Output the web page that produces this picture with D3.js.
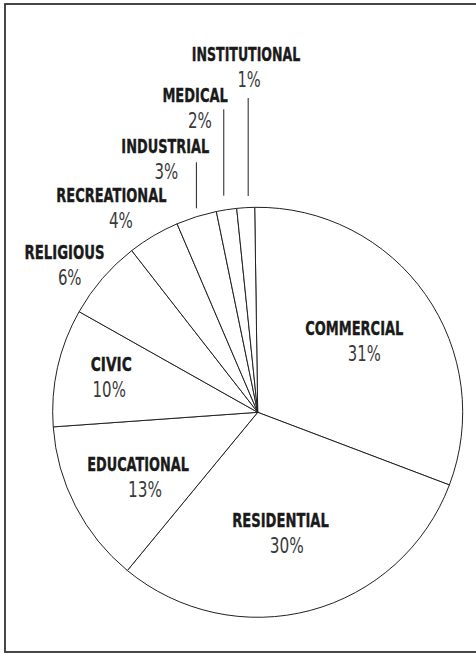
<!DOCTYPE html>
<html>
<head>
<meta charset="utf-8">
<script src="https://cdn.jsdelivr.net/npm/d3@7"></script>
<style>
  html, body { margin: 0; padding: 0; background: #fff; }
  svg { display: block; }
</style>
</head>
<body>
<svg id="chart" width="476" height="653"></svg>
<script>
// ---- data ----
const categories = ["COMMERCIAL", "RESIDENTIAL", "EDUCATIONAL", "CIVIC", "RELIGIOUS",
                    "RECREATIONAL", "INDUSTRIAL", "MEDICAL", "INSTITUTIONAL"];
const shares = [31.0, 30.2, 12.9, 9.3, 6.3, 4.1, 3.2, 1.6, 1.4];
const pctLabels = ["31%", "30%", "13%", "10%", "6%", "4%", "3%", "2%", "1%"];

// ---- layout (label placement relative to slice mid-angle, in degrees / radius factor) ----
const labelAngleNudge = [-3.6, 3.6, 1.35, 3.0, -2.37, -4.27, -2.22, -2.62, 1.46];
const labelRadiusK    = [0.603, 0.569, 0.649, 0.742, 1.202, 1.25, 1.342, 1.546, 1.715];
const nameWidths      = [98.3, 96.7, 101.7, 41, 80, 110.3, 88, 65.6, 108.5];
const pctWidths       = [33, 34, 34, 33.3, 23.7, 24, 23.7, 24, 23.3];
const pctDx           = [10, 6.3, 7, -2, 5.2, 9.5, 1, 4.8, 3];
// leader lines: [x nudge, top y, bottom y] relative to pie centre (null = none)
const leaders = [null, null, null, null, null, null, [0, -250, -204], [-2.7, -303, -216.6], [2.5, -314.3, -216.3]];

const W = 476, H = 653;
const cx = 257.7, cy = 412.3, R = 205;
const startDeg = -0.84;

const svg = d3.select("#chart");

// frame
svg.append("rect")
  .attr("x", 5).attr("y", 4)
  .attr("width", 480).attr("height", 648)
  .attr("fill", "none")
  .attr("stroke", "#333")
  .attr("stroke-width", 1.8);

const data = categories.map((c, i) => ({ name: c, value: shares[i], pct: pctLabels[i], i }));

const start = startDeg * Math.PI / 180;
const pie = d3.pie().sort(null).value(d => d.value)
  .startAngle(start).endAngle(start + 2 * Math.PI);
const arcs = pie(data);

const arc = d3.arc().innerRadius(0).outerRadius(R);

const g = svg.append("g").attr("transform", `translate(${cx},${cy})`);

g.selectAll("path.slice")
  .data(arcs)
  .join("path")
  .attr("class", "slice")
  .attr("d", arc)
  .attr("fill", "#fff")
  .attr("stroke", "#222")
  .attr("stroke-width", 1)
  .attr("stroke-linejoin", "round");

// leader lines
arcs.forEach(a => {
  const L = leaders[a.data.i];
  if (!L) return;
  const mid = (a.startAngle + a.endAngle) / 2;
  const x = R * Math.sin(mid) + L[0];
  g.append("line")
    .attr("x1", x).attr("x2", x)
    .attr("y1", L[1]).attr("y2", L[2])
    .attr("stroke", "#222")
    .attr("stroke-width", 1);
});

// labels: draw naturally, then compress horizontally to the measured width
const fontStack = "'Liberation Sans Narrow', 'DejaVu Sans Condensed', 'Roboto', sans-serif";
function fitText(x, y, str, width, opts) {
  const t = g.append("text")
    .attr("x", 0).attr("y", 0)
    .attr("text-anchor", "middle")
    .attr("font-family", fontStack)
    .attr("font-weight", opts.weight)
    .attr("font-size", opts.size)
    .attr("fill", opts.fill)
    .text(str);
  if (opts.stroke) t.attr("stroke", opts.fill).attr("stroke-width", opts.stroke);
  const natural = t.node().getComputedTextLength();
  const sx = natural > 0 ? width / natural : 1;
  t.attr("transform", `translate(${x},${y}) scale(${sx},1)`);
  return t;
}

arcs.forEach(a => {
  const i = a.data.i;
  const mid = (a.startAngle + a.endAngle) / 2 + labelAngleNudge[i] * Math.PI / 180;
  const r = labelRadiusK[i] * R;
  const x = r * Math.sin(mid);
  const y = -r * Math.cos(mid);
  fitText(x, y, a.data.name, nameWidths[i], { weight: "bold", size: 19.5, fill: "#1a1a1a", stroke: 0.35 });
  fitText(x + pctDx[i], y + 26, a.data.pct, pctWidths[i], { weight: "normal", size: 20.5, fill: "#3a3a3a" });
});
</script>
</body>
</html>
